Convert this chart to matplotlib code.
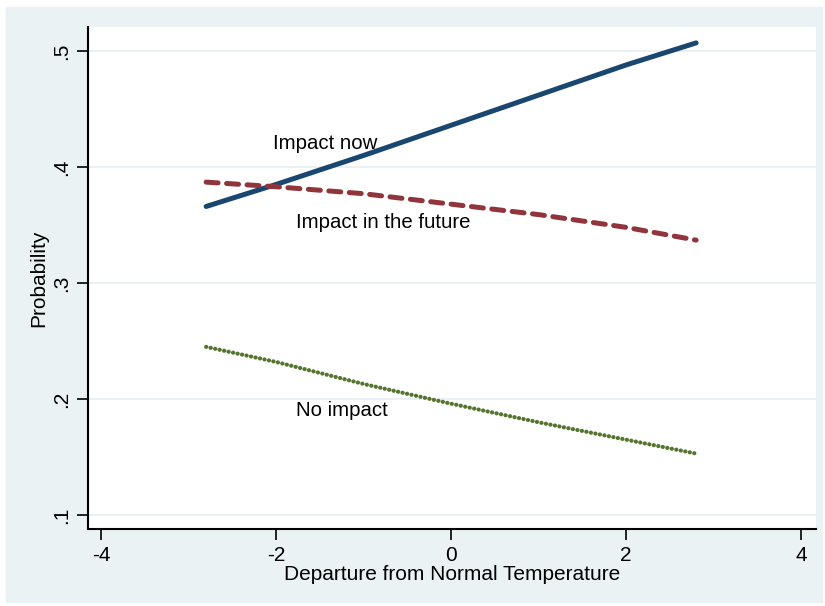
import matplotlib.pyplot as plt
from matplotlib.patches import Rectangle

plt.rcParams['font.family'] = ['Liberation Sans', 'DejaVu Sans']

# predicted probabilities by temperature departure
temp = [-2.8, -2.0, -1.0, 0.0, 1.0, 2.0, 2.8]
impact_now = [0.366, 0.385, 0.410, 0.436, 0.462, 0.488, 0.507]
impact_future = [0.387, 0.383, 0.377, 0.368, 0.359, 0.348, 0.337]
no_impact = [0.245, 0.232, 0.213, 0.196, 0.180, 0.165, 0.153]

xticks = [-4, -2, 0, 2, 4]
yticks = [0.1, 0.2, 0.3, 0.4, 0.5]
ytick_labels = ['.1', '.2', '.3', '.4', '.5']

bg = '#eaf2f3'
fig = plt.figure(figsize=(8.25, 6.06), dpi=100)
fig.patches.append(Rectangle((6 / 825, 4 / 606), 816 / 825, 595 / 606,
                             transform=fig.transFigure, color=bg, zorder=-5))

ax = fig.add_axes([88 / 825, 1 - 529 / 606, 728 / 825, 502 / 606])
ax.set_zorder(2)
ax.set_facecolor('white')

ax.plot(temp, impact_now, color='#1a476f', lw=3.6, solid_capstyle='round')
ax.plot(temp, impact_future, color='#90353b', lw=3.6, dashes=(2.4, 1.7),
        dash_capstyle='round')
ax.plot(temp, no_impact, color='#55752f', lw=3.0, dashes=(0.05, 1.05),
        dash_capstyle='round')

ax.text(-1.44, 0.4207, 'Impact now', fontsize=14.7, ha='center', va='center')
ax.text(-0.77, 0.3526, 'Impact in the future', fontsize=14.7, ha='center', va='center')
ax.text(-1.25, 0.1905, 'No impact', fontsize=14.7, ha='center', va='center')

ax.set_xlim(-4.15, 4.17)
ax.set_ylim(0.088, 0.5207)
ax.set_xticks(xticks)
ax.set_xticklabels([str(t) for t in xticks])
ax.set_yticks(yticks)
ax.set_yticklabels(ytick_labels, rotation=90, va='center')
ax.tick_params(direction='out', length=8, width=1.2, labelsize=15, pad=4)
ax.grid(axis='y', color='#e6eef1', lw=1.2)
ax.set_axisbelow(True)

for side in ['top', 'right']:
    ax.spines[side].set_visible(False)
for side in ['left', 'bottom']:
    ax.spines[side].set_linewidth(1.5)

ax.set_xlabel('Departure from Normal Temperature', fontsize=15, labelpad=0)
ax.set_ylabel('Probability', fontsize=15, labelpad=3)

fig.savefig('out.png', dpi=100)
